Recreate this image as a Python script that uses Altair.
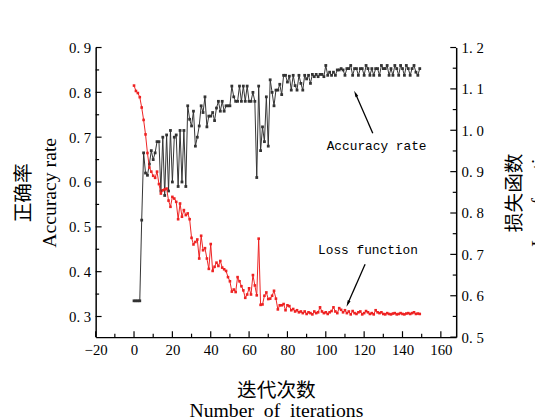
import altair as alt
import pandas as pd

# ---------------- data ----------------
iterations = list(range(150))

accuracy = [
    0.335, 0.335, 0.335, 0.335,
    0.515, 0.665, 0.62, 0.615, 0.64, 0.67, 0.65, 0.665, 0.69, 0.69,
    0.58, 0.70, 0.57, 0.705, 0.58, 0.715, 0.60, 0.70, 0.705, 0.59, 0.715, 0.60, 0.715, 0.59,
    0.77, 0.74, 0.725, 0.758, 0.68, 0.70, 0.725, 0.77, 0.755, 0.79, 0.723, 0.747, 0.747, 0.755,
    0.737, 0.765, 0.78, 0.758, 0.78, 0.758, 0.77, 0.77, 0.77, 0.814, 0.79, 0.78, 0.78, 0.814,
    0.78, 0.814, 0.78, 0.814, 0.78, 0.78, 0.80, 0.78, 0.61, 0.814, 0.67, 0.723, 0.69, 0.79,
    0.68, 0.828, 0.80, 0.77, 0.805, 0.805, 0.818, 0.795, 0.838, 0.838, 0.823, 0.836, 0.805, 0.838,
    0.815, 0.805, 0.838, 0.82, 0.805, 0.838, 0.83, 0.838, 0.82, 0.84, 0.835, 0.84, 0.835, 0.84, 0.84, 0.835,
    0.86, 0.838, 0.845, 0.838, 0.845, 0.838, 0.85, 0.85, 0.853, 0.85,
    0.838, 0.853, 0.853, 0.86, 0.838, 0.853, 0.853, 0.838, 0.853, 0.853,
    0.838, 0.86, 0.853, 0.838, 0.853, 0.838, 0.853, 0.853, 0.838, 0.86,
    0.853, 0.853, 0.86, 0.838, 0.853, 0.838, 0.86, 0.853, 0.838, 0.86,
    0.853, 0.838, 0.86, 0.853, 0.838, 0.853, 0.86, 0.845, 0.838, 0.853,
]

loss = [
    1.108, 1.095, 1.09, 1.08, 1.055, 1.025, 0.99, 0.945, 0.91, 0.90,
    0.89, 0.885, 0.90, 0.87, 0.847, 0.855, 0.857, 0.859, 0.83, 0.815,
    0.839, 0.835, 0.827, 0.785, 0.823, 0.791, 0.807, 0.795, 0.799, 0.785,
    0.74, 0.724, 0.73, 0.736, 0.69, 0.745, 0.71, 0.715, 0.69, 0.665,
    0.725, 0.66, 0.67, 0.68, 0.672, 0.684, 0.668, 0.664, 0.66, 0.645,
    0.635, 0.61, 0.615, 0.609, 0.645, 0.635, 0.623, 0.613, 0.595, 0.603,
    0.618, 0.603, 0.65, 0.625, 0.601, 0.738, 0.578, 0.579, 0.60, 0.608,
    0.592, 0.593, 0.60, 0.612, 0.593, 0.567, 0.577, 0.577, 0.58, 0.565,
    0.577, 0.575, 0.565, 0.568, 0.562, 0.565, 0.56, 0.562, 0.558, 0.562,
    0.556, 0.56, 0.558, 0.555, 0.562, 0.558, 0.56, 0.572, 0.562, 0.558,
    0.56, 0.556, 0.56, 0.563, 0.572, 0.562, 0.558, 0.57, 0.566, 0.56,
    0.565, 0.558, 0.562, 0.555, 0.563, 0.558, 0.556, 0.56, 0.562, 0.555,
    0.558, 0.563, 0.56, 0.556, 0.558, 0.555, 0.565, 0.56, 0.558, 0.56,
    0.556, 0.555, 0.558, 0.556, 0.555, 0.557, 0.558, 0.555, 0.556, 0.558,
    0.556, 0.555, 0.557, 0.558, 0.556, 0.558, 0.56, 0.556, 0.557, 0.556,
]

x_label_values = [-20, 0, 20, 40, 60, 80, 100, 120, 140, 160]
x_minor_values = [-10, 10, 30, 50, 70, 90, 110, 130, 150]
acc_label_values = [0.3, 0.4, 0.5, 0.6, 0.7, 0.8, 0.9]
acc_minor_values = [0.35, 0.45, 0.55, 0.65, 0.75, 0.85]
loss_label_values = [0.5, 0.6, 0.7, 0.8, 0.9, 1.0, 1.1, 1.2]
loss_minor_values = [0.55, 0.65, 0.75, 0.85, 0.95, 1.05, 1.15]

acc_note = ["Accuracy rate"]
acc_note_x = [126.5]
acc_note_y = [0.68]
acc_arrow_x = [124.5]
acc_arrow_y = [0.709]
acc_arrow_x2 = [115.5]
acc_arrow_y2 = [0.797]
acc_arrow_angle = [335]

loss_note = ["Loss function"]
loss_note_x = [122]
loss_note_y = [0.71]
loss_arrow_x = [120.5]
loss_arrow_y = [0.676]
loss_arrow_x2 = [111.5]
loss_arrow_y2 = [0.581]
loss_arrow_angle = [204]

X_DOMAIN = [-20, 168]
ACC_DOMAIN = [0.254, 0.9]
LOSS_DOMAIN = [0.5, 1.2]

# ---------------- tables ----------------
df = pd.DataFrame({"iter": iterations, "acc": accuracy, "loss": loss})
df_acc_note = pd.DataFrame({"t": acc_note, "x": acc_note_x, "y": acc_note_y,
                            "ax": acc_arrow_x, "ay": acc_arrow_y,
                            "ax2": acc_arrow_x2, "ay2": acc_arrow_y2,
                            "ang": acc_arrow_angle})
df_loss_note = pd.DataFrame({"t": loss_note, "x": loss_note_x, "y": loss_note_y,
                             "ax": loss_arrow_x, "ay": loss_arrow_y,
                             "ax2": loss_arrow_x2, "ay2": loss_arrow_y2,
                             "ang": loss_arrow_angle})

W, H = 366, 294
SERIF = "Liberation Serif"
TITLE_FONT = "Liberation Serif, Noto Sans CJK SC"
ACC_COLOR = "#333333"
LOSS_COLOR = "#ee2222"
MAJOR, MINOR = 6, 3.5

xs = alt.Scale(domain=X_DOMAIN, nice=False, zero=False)
acc_s = alt.Scale(domain=ACC_DOMAIN, nice=False, zero=False)
loss_s = alt.Scale(domain=LOSS_DOMAIN, nice=False, zero=False)

label_fmt = "replace(format(datum.value, '.1f'), '.', '. ')"

common_lab = dict(ticks=False, tickSize=0, grid=False, domainColor="black",
                  domainWidth=1.5, labelFont=SERIF, labelFontSize=15,
                  labelColor="black", titleFont=TITLE_FONT, titleFontSize=20,
                  titleFontWeight="normal", titleColor="black",
                  titleBaseline="top", labelFlush=False)

x_lab_axis = alt.Axis(orient="bottom", values=x_label_values, labelPadding=6,
                      title=["迭代次数", "Number\u2002of\u2002iterations"],
                      titleX=W / 2, titleY=44, titleAlign="center",
                      titleLineHeight=21, **common_lab)
acc_lab_axis = alt.Axis(orient="left", values=acc_label_values, labelPadding=5,
                        labelExpr=label_fmt,
                        title=["正确率", "Accuracy rate"], titleAngle=270,
                        titleX=-83, titleY=H / 2, titleAlign="center",
                        titleLineHeight=26, **common_lab)
loss_lab_axis = alt.Axis(orient="right", values=loss_label_values, labelPadding=5,
                         labelExpr=label_fmt,
                         title=["损失函数", "Loss function"], titleAngle=270,
                         titleX=49, titleY=H / 2, titleAlign="center",
                         titleLineHeight=25, **common_lab)

base = alt.Chart(df)

acc_line = base.mark_line(color=ACC_COLOR, strokeWidth=1).encode(
    x=alt.X("iter:Q", scale=xs, axis=x_lab_axis),
    y=alt.Y("acc:Q", scale=acc_s, axis=acc_lab_axis),
)
acc_pts = base.mark_point(shape="square", filled=True, size=8, color=ACC_COLOR,
                          opacity=1).encode(
    x=alt.X("iter:Q", scale=xs, axis=None),
    y=alt.Y("acc:Q", scale=acc_s, axis=None),
)
loss_line = base.mark_line(color=LOSS_COLOR, strokeWidth=1).encode(
    x=alt.X("iter:Q", scale=xs, axis=None),
    y=alt.Y("loss:Q", scale=loss_s, axis=loss_lab_axis),
)
loss_pts = base.mark_point(shape="square", filled=True, size=7, color=LOSS_COLOR,
                           opacity=1).encode(
    x=alt.X("iter:Q", scale=xs, axis=None),
    y=alt.Y("loss:Q", scale=loss_s, axis=None),
)


# ---------- inward ticks, placed by the axis scales ----------
def x_ticks(values, size):
    return alt.Chart(pd.DataFrame({"v": values})).mark_rule(
        color="black", strokeWidth=1.2).encode(
        x=alt.X("v:Q", scale=xs, axis=None),
        y=alt.value(H), y2=alt.value(H - size),
    )


def y_ticks(values, scale, side, size):
    return alt.Chart(pd.DataFrame({"v": values})).mark_tick(
        color="black", thickness=1.2, size=size, orient="horizontal",
        opacity=1).encode(
        y=alt.Y("v:Q", scale=scale, axis=None),
        x=alt.value(size / 2 if side == "left" else W - size / 2),
    )


tick_layers = [
    x_ticks(x_label_values, MAJOR),
    x_ticks(x_minor_values, MINOR),
    y_ticks(acc_label_values, acc_s, "left", MAJOR),
    y_ticks(acc_minor_values, acc_s, "left", MINOR),
    y_ticks(loss_label_values, loss_s, "right", MAJOR),
    y_ticks(loss_minor_values, loss_s, "right", MINOR),
]

HEAD = "M0,-1L0.45,1L-0.45,1Z"


def notes(dfn, scale):
    b = alt.Chart(dfn)
    txt = b.mark_text(font="Liberation Mono", fontSize=13, color="black").encode(
        x=alt.X("x:Q", scale=xs, axis=None),
        y=alt.Y("y:Q", scale=scale, axis=None),
        text="t:N",
    )
    rule = b.mark_rule(color="black", strokeWidth=1.3).encode(
        x=alt.X("ax:Q", scale=xs, axis=None),
        y=alt.Y("ay:Q", scale=scale, axis=None),
        x2="ax2:Q", y2="ay2:Q",
    )
    head = b.mark_point(shape=HEAD, filled=True, size=45, color="black",
                        opacity=1).encode(
        x=alt.X("ax2:Q", scale=xs, axis=None),
        y=alt.Y("ay2:Q", scale=scale, axis=None),
        angle=alt.Angle("ang:Q", scale=None),
    )
    return [txt, rule, head]


layers = (
    [acc_line, acc_pts, loss_line, loss_pts]
    + tick_layers
    + notes(df_acc_note, acc_s)
    + notes(df_loss_note, loss_s)
)

chart = alt.layer(*layers).resolve_scale(y="independent").resolve_axis(
    x="independent", y="independent"
).properties(
    width=W, height=H,
    autosize=alt.AutoSizeParams(type="none"),
    padding={"left": 89, "top": 37, "right": 80, "bottom": 80},
).configure_view(stroke="transparent")

chart.save("out.html", embed_options={"renderer": "svg", "actions": False})
